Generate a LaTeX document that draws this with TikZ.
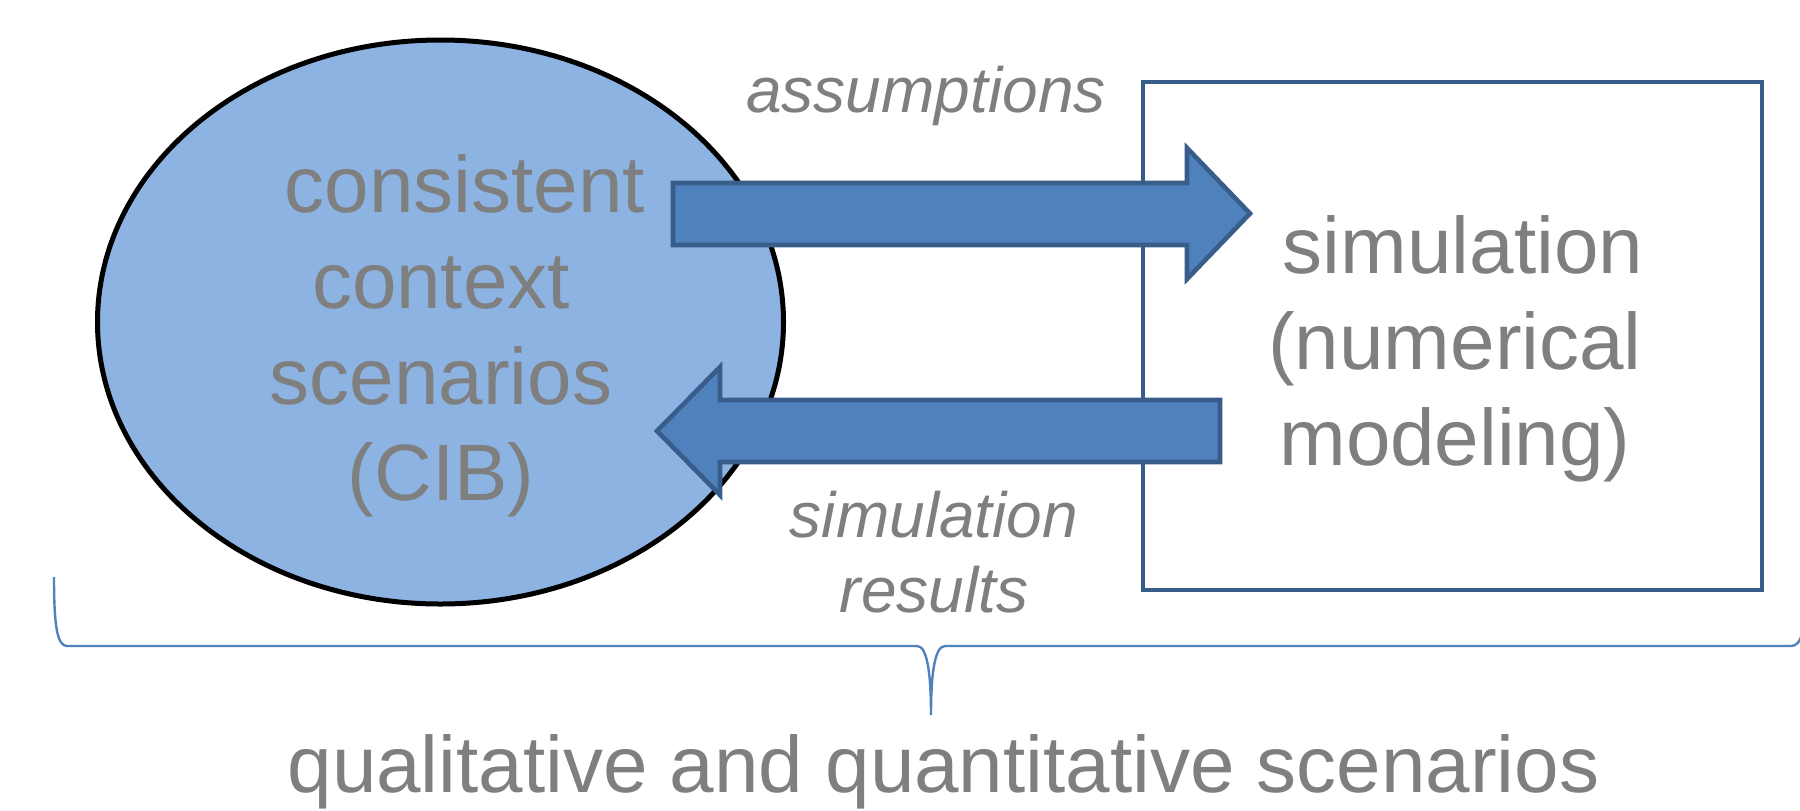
\documentclass[tikz,border=0pt]{standalone}
\usepackage{fontspec}
\setmainfont{Liberation Sans}
\usetikzlibrary{shapes.geometric}
\definecolor{txtgray}{HTML}{7F7F7F}
\definecolor{cibfill}{HTML}{8DB3E2}
\definecolor{arrowfill}{HTML}{4F81BD}
\definecolor{arrowline}{HTML}{385D8A}
\definecolor{bracecol}{HTML}{4F81BD}
\tikzset{
  bigtext/.style={text=txtgray, inner sep=0pt, align=center,
    font=\fontsize{40}{48}\selectfont},
  labeltext/.style={text=txtgray, inner sep=0pt, align=center,
    font=\fontsize{32}{37.5}\selectfont\itshape},
  blockarrow/.style={fill=arrowfill, draw=arrowline, line width=2.3pt, line join=miter},
  cibshape/.style={ellipse, fill=cibfill, draw=black, line width=2.5pt,
    minimum width=343pt, minimum height=282pt, inner sep=0pt},
  simbox/.style={draw=arrowline, line width=2pt},
  bracestyle/.style={draw=bracecol, line width=1.2pt}
}
\begin{document}
\begin{tikzpicture}[x=0.5pt, y=-0.5pt]
\useasboundingbox (0,0) rectangle (1800,810);

% CIB ellipse and simulation frame
\node[cibshape] (cib) at (440.5,322) {};
\draw[simbox] (1143,82) rectangle (1762,590);

% block arrows between the two parts
\draw[blockarrow] (673,183) -- (1187,183) -- (1187,148) -- (1250,213.5)
  -- (1187,279) -- (1187,245) -- (673,245) -- cycle;
\draw[blockarrow] (1220,400) -- (720,400) -- (720,367) -- (657,431)
  -- (720,495) -- (720,462) -- (1220,462) -- cycle;

% texts (base anchor sits on the last line)
\node[bigtext, anchor=base] (cibtext) at (441,500)
  {\hspace*{24pt}consistent\\context\\scenarios\\(CIB)};
\node[bigtext, anchor=base] (simtext) at (1455,465)
  {\hspace*{8pt}simulation\\(numerical\\modeling)};
\node[labeltext, anchor=base] (assume) at (926,112.5) {assumptions};
\node[labeltext, anchor=base] (results) at (934,612) {simulation\\results};

% curly brace spanning both parts
\draw[bracestyle] (54,577) .. controls (54,625) and (57,646) .. (67,646)
  -- (917,646) .. controls (927,646) and (931,672) .. (931,715)
  .. controls (931,672) and (935,646) .. (945,646)
  -- (1791,646) .. controls (1797,646) and (1800,641) .. (1802,634);

\node[bigtext, anchor=base] (bottom) at (943.5,792)
  {qualitative and quantitative scenarios};
\end{tikzpicture}
\end{document}
